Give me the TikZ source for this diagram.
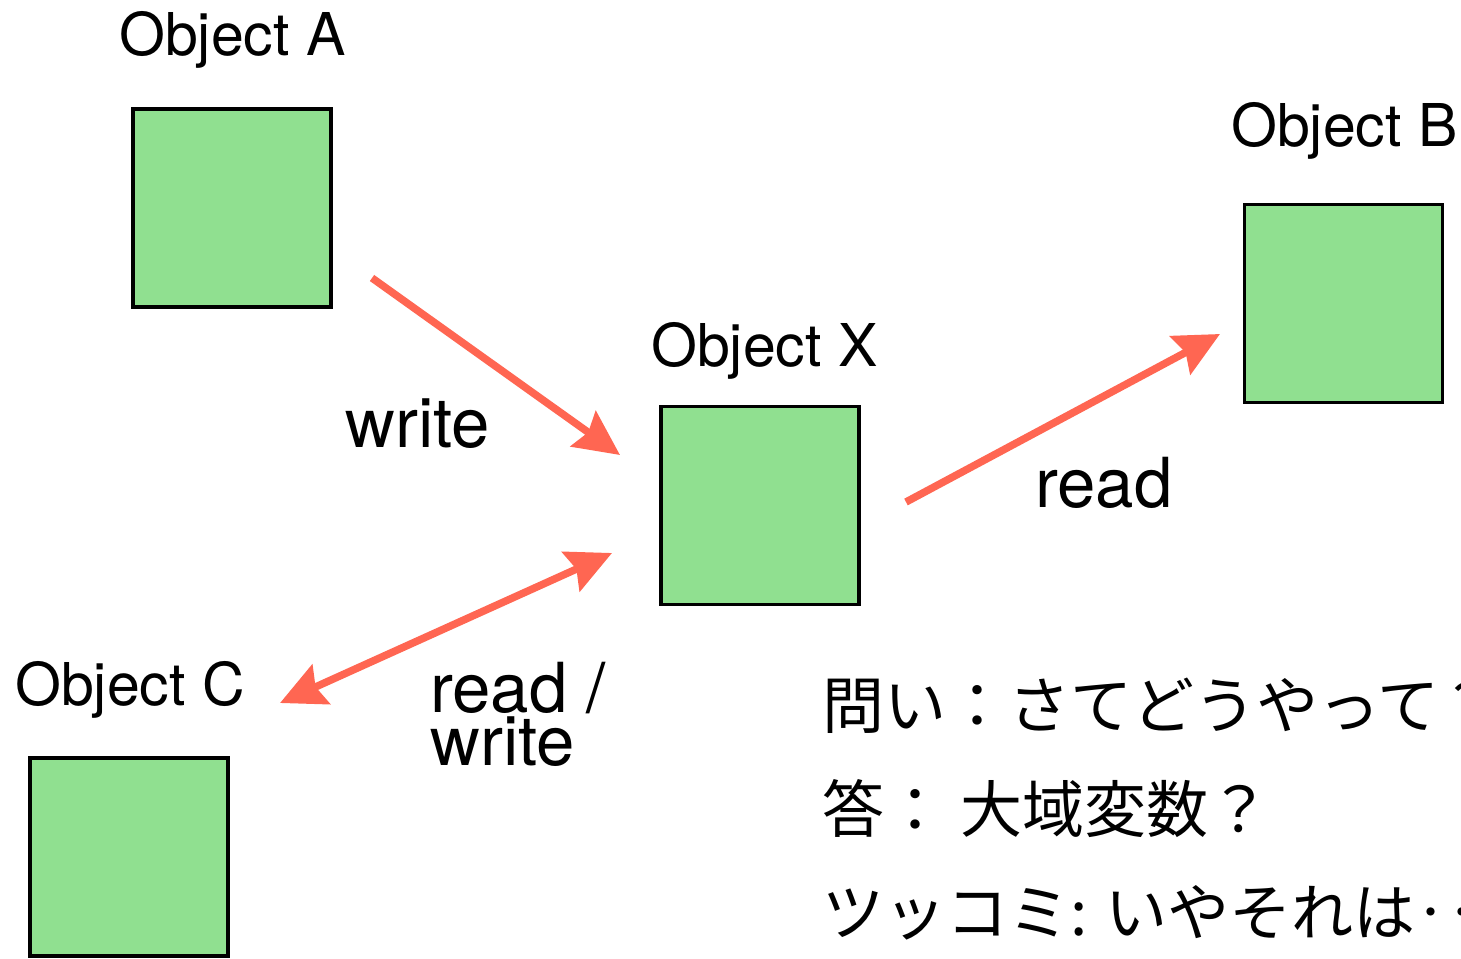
\documentclass[tikz,border=0pt]{standalone}
\usepackage{fontspec}
\setmainfont{TeX Gyre Heros}
\newfontfamily\cjk{Noto Sans CJK JP}
\usetikzlibrary{arrows.meta}
\definecolor{boxgreen}{RGB}{144,224,144}
\definecolor{arrowred}{RGB}{255,102,82}
\tikzset{
  objbox/.style={draw=black, line width=3.5pt, fill=boxgreen, minimum width=198pt, minimum height=198pt, inner sep=0pt},
  objlabel/.style={anchor=base west, inner sep=0pt, font=\fontsize{59}{59}\selectfont},
  arrlabel/.style={anchor=base west, inner sep=0pt, font=\fontsize{69}{53}\selectfont, align=left},
  jtext/.style={anchor=base west, inner sep=0pt, font=\cjk\fontsize{62}{62}\selectfont},
  conn/.style={draw=arrowred, line width=7.5pt, -{Stealth[length=45pt, width=43pt, inset=6pt]}},
  conn2/.style={draw=arrowred, line width=7.5pt, {Stealth[length=45pt, width=43pt, inset=6pt]}-{Stealth[length=45pt, width=43pt, inset=6pt]}}
}
\begin{document}
\begin{tikzpicture}[x=1pt,y=-1pt]
\useasboundingbox (0,0) rectangle (1461,958);
% boxes
\node[objbox] (A) at (232,208) {};
\node[objbox] (B) at (1343.5,303.5) {};
\node[objbox] (X) at (760,505.5) {};
\node[objbox] (C) at (129,857) {};
% labels
\node[objlabel] (la) at (119,56) {Object A};
\node[objlabel] (lb) at (1231,146) {Object B};
\node[objlabel] (lx) at (651,366) {Object X};
\node[objlabel] (lc) at (15,705) {Object C};
\node[arrlabel] (w) at (345,447) {write};
\node[arrlabel] (r) at (1035,507) {read};
\node[arrlabel] (rw) at (430,765) {read /\\write};
% connector ends
\coordinate (a1) at (372,278);
\coordinate (a2) at (620,455);
\coordinate (b1) at (906,502);
\coordinate (b2) at (1220,334);
\coordinate (c1) at (280,703);
\coordinate (c2) at (612,553);
\draw[conn] (a1) -- (a2);
\draw[conn] (b1) -- (b2);
\draw[conn2] (c1) -- (c2);
% Japanese text
\node[jtext] (q) at (822,728) {問い：さてどうやって？};
\node[jtext] (ans) at (822,832) {答： 大域変数？};
\node[jtext] (t) at (822,935) {ツッコミ: いやそれは‥};
\end{tikzpicture}
\end{document}
